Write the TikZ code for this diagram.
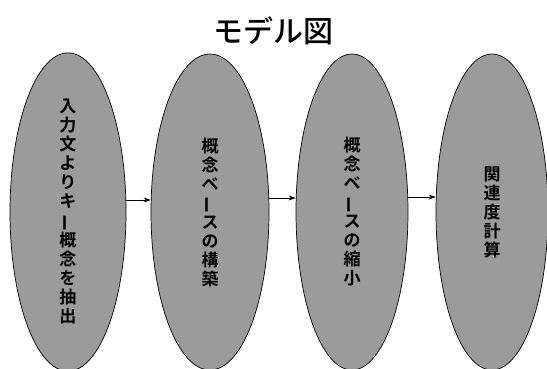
\documentclass[tikz,border=0pt]{standalone}
\usepackage{fontspec}
\newfontfamily\jp{Noto Sans CJK JP Medium}
\newfontfamily\jpb{Noto Sans CJK JP Bold}
\usetikzlibrary{shapes.geometric,arrows.meta}
\definecolor{halftone}{RGB}{155,155,155}
\tikzset{
  stage/.style={ellipse, draw=black, line width=0.7pt, fill=halftone,
    minimum width=116pt, minimum height=316pt, inner sep=0pt,
    font=\jpb\fontsize{17}{19}\selectfont, align=center},
  flow/.style={-{Stealth[length=7pt,width=5pt]}, line width=0.6pt}
}
\newcommand{\vbar}{\rotatebox[origin=c]{90}{ー}}
\begin{document}
\begin{tikzpicture}[x=1pt,y=-1pt]
\useasboundingbox[fill=white] (0,0) rectangle (547,368);
\node[font=\jp\fontsize{30}{32}\selectfont] (title) at (273,31) {モデル図};
\node[stage] (s1) at (68,212) {入\\力\\文\\よ\\り\\キ\\\vbar\\概\\念\\を\\抽\\出};
\node[stage, minimum width=118pt] (s2) at (210,212) {概\\念\\ベ\\\vbar\\ス\\の\\構\\築};
\node[stage, minimum width=112pt] (s3) at (352,212) {概\\念\\ベ\\\vbar\\ス\\の\\縮\\小};
\node[stage, minimum width=112pt] (s4) at (492,212) {関\\連\\度\\計\\算};
\draw[flow] (s1.east |- 0,200) -- (s2.west |- 0,200);
\draw[flow] (s2.east |- 0,198) -- (s3.west |- 0,198);
\draw[flow] (s3.east |- 0,197) -- (s4.west |- 0,197);
\end{tikzpicture}
\end{document}
